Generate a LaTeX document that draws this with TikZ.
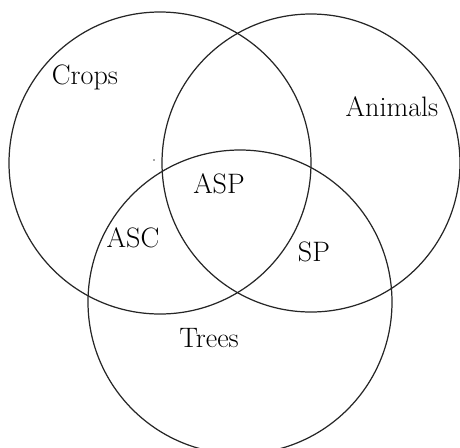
\documentclass[tikz,border=0pt]{standalone}
\begin{document}
\begin{tikzpicture}[x=0.02cm,y=-0.02cm,
  ring/.style={black!85,line width=0.7pt},
  lbl/.style={font=\fontsize{16}{19}\selectfont,inner sep=0pt}]
\clip (0,0) rectangle (460,447);
\draw[ring] (160,163) circle (151);
\draw[ring] (311,163) circle (149);
\draw[ring] (240,302) circle (152);
\fill[black!70] (154,160) circle (0.5pt);
\node[lbl] (crops) at (85,77) {Crops};
\node[lbl] (animals) at (392,107) {Animals};
\node[lbl] (asp) at (219,184) {ASP};
\node[lbl] (asc) at (133,238) {ASC};
\node[lbl] (sp) at (314,252) {SP};
\node[lbl] (trees) at (209,338) {Trees};
\end{tikzpicture}
\end{document}
